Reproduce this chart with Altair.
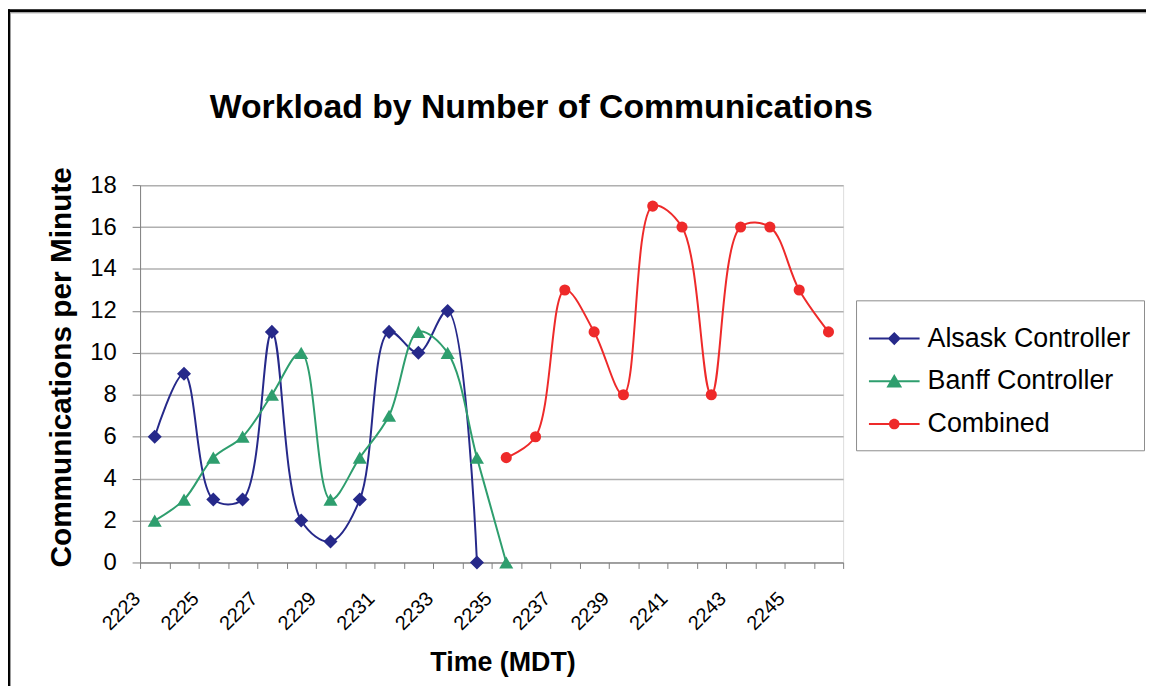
import altair as alt
import pandas as pd

# ---- data ----
times = [str(t) for t in range(2223, 2247)]
alsask_times = times[0:12]
alsask_values = [6, 9, 3, 3, 11, 2, 1, 3, 11, 10, 12, 0]
banff_times = times[0:13]
banff_values = [2, 3, 5, 6, 8, 10, 3, 5, 7, 11, 10, 5, 0]
combined_times = times[12:24]
combined_values = [5, 6, 13, 11, 8, 17, 16, 8, 16, 16, 13, 11]

series_names = ["Alsask Controller", "Banff Controller", "Combined"]
series_colors = ["#26298A", "#2E9E6E", "#EE2A2A"]
series_shapes = ["diamond", "triangle-up", "circle"]
series_sizes = [200, 200, 125]
y_ticks = list(range(0, 19, 2))
title_text = "Workload by Number of Communications"

# legend glyphs: a thin filled bar (the line) with the marker on it
legend_paths = [
    "M-1,-0.04H1V0.04H-1ZM0,-0.26L0.26,0L0,0.26L-0.26,0Z",
    "M-1,-0.04H1V0.04H-1ZM0,-0.29L0.31,0.25L-0.31,0.25Z",
    "M-1,-0.04H1V0.04H-1ZM0.21,0A0.21,0.21,0,1,1,-0.21,0A0.21,0.21,0,1,1,0.21,0Z",
]

rows = []
for name, ts, vs in [
    (series_names[0], alsask_times, alsask_values),
    (series_names[1], banff_times, banff_values),
    (series_names[2], combined_times, combined_values),
]:
    for t, v in zip(ts, vs):
        rows.append({"time": t, "value": v, "series": name})
df = pd.DataFrame(rows)

FONT = "Liberation Sans"
W, H = 708, 380
PAD = {"left": 133, "top": 176, "right": 305, "bottom": 122}

x_enc = alt.X(
    "time:O",
    sort=times,
    scale=alt.Scale(type="band", domain=times, paddingInner=0, paddingOuter=0),
    axis=alt.Axis(
        title="Time (MDT)",
        titleFont=FONT, titleFontSize=27, titleFontWeight="bold", titleColor="black",
        titleX=365, titleY=101, titleAlign="center", titleBaseline="middle",
        labelExpr="toNumber(datum.value) % 2 == 1 ? datum.value : ''",
        labelAngle=-45, labelAlign="right", labelBaseline="middle",
        labelFont=FONT, labelFontSize=20, labelColor="black",
        labelOffset=-18, labelPadding=27,
        tickBand="extent", tickSize=6, tickColor="#808080",
        domainColor="#808080", grid=False, labelOverlap=False,
    ),
)
y_enc = alt.Y(
    "value:Q",
    scale=alt.Scale(domain=[0, 18], nice=False),
    axis=alt.Axis(
        title="Communications per Minute",
        titleFont=FONT, titleFontSize=30, titleFontWeight="bold", titleColor="black",
        titleAngle=-90, titleX=-79, titleY=183, titleAlign="center", titleBaseline="middle",
        values=y_ticks, labelFont=FONT, labelFontSize=24, labelColor="black",
        labelPadding=16, tickSize=8, tickColor="#808080", domainColor="#808080",
        gridColor="#B0B0B0", gridWidth=1.5,
    ),
)

base = alt.Chart(df)

layers = []
for name, col in zip(series_names, series_colors):
    layers.append(
        base.transform_filter(alt.datum.series == name)
        .mark_line(interpolate="catmull-rom", strokeWidth=2, color=col)
        .encode(x=x_enc, y=y_enc)
    )
for name, col, shp, sz in zip(series_names, series_colors, series_shapes, series_sizes):
    layers.append(
        base.transform_filter(alt.datum.series == name)
        .mark_point(filled=True, opacity=1, color=col, shape=shp, size=sz)
        .encode(x=x_enc, y=y_enc)
    )

leg = alt.Legend(
    title=None, orient="none", legendX=721, legendY=116,
    labelFont=FONT, labelFontSize=27, labelColor="black", labelLimit=400,
    symbolSize=2601, symbolStrokeWidth=0, labelOffset=8,
    padding=13, rowPadding=4,
    strokeColor="#8C8C8C", fillColor="white",
)
legend_layer = base.transform_filter("false").mark_point(filled=True, opacity=1, strokeWidth=0).encode(
    x=x_enc, y=y_enc,
    color=alt.Color("series:N", scale=alt.Scale(domain=series_names, range=series_colors), legend=leg),
    shape=alt.Shape("series:N", scale=alt.Scale(domain=series_names, range=legend_paths), legend=leg),
)
layers.append(legend_layer)

deco_df = pd.DataFrame({"k": [0]})
deco = alt.Chart(deco_df)
layers += [
    deco.mark_rule(color="black", strokeWidth=3).encode(
        x=alt.value(-133), x2=alt.value(1030), y=alt.value(-175.5)),
    deco.mark_rule(color="black", strokeWidth=3).encode(
        x=alt.value(-132.5), y=alt.value(-177), y2=alt.value(510)),
    deco.mark_rule(color="#999999", strokeWidth=1).encode(
        x=alt.value(-131), x2=alt.value(1030), y=alt.value(-173.5)),
    deco.mark_rule(color="#999999", strokeWidth=1).encode(
        x=alt.value(-130.5), y=alt.value(-174), y2=alt.value(510)),
    deco.mark_text(font=FONT, fontSize=34, fontWeight="bold", color="black",
                   align="center", baseline="alphabetic").encode(
        x=alt.value(404), y=alt.value(-68), text=alt.value(title_text)),
]

chart = (
    alt.layer(*layers)
    .properties(
        width=W, height=H,
        padding=PAD,
        autosize=alt.AutoSizeParams(type="none"),
    )
    .configure_view(stroke=None)
    .configure(background="white")
)

chart.save("out.html", embed_options={"renderer": "svg", "actions": False})
